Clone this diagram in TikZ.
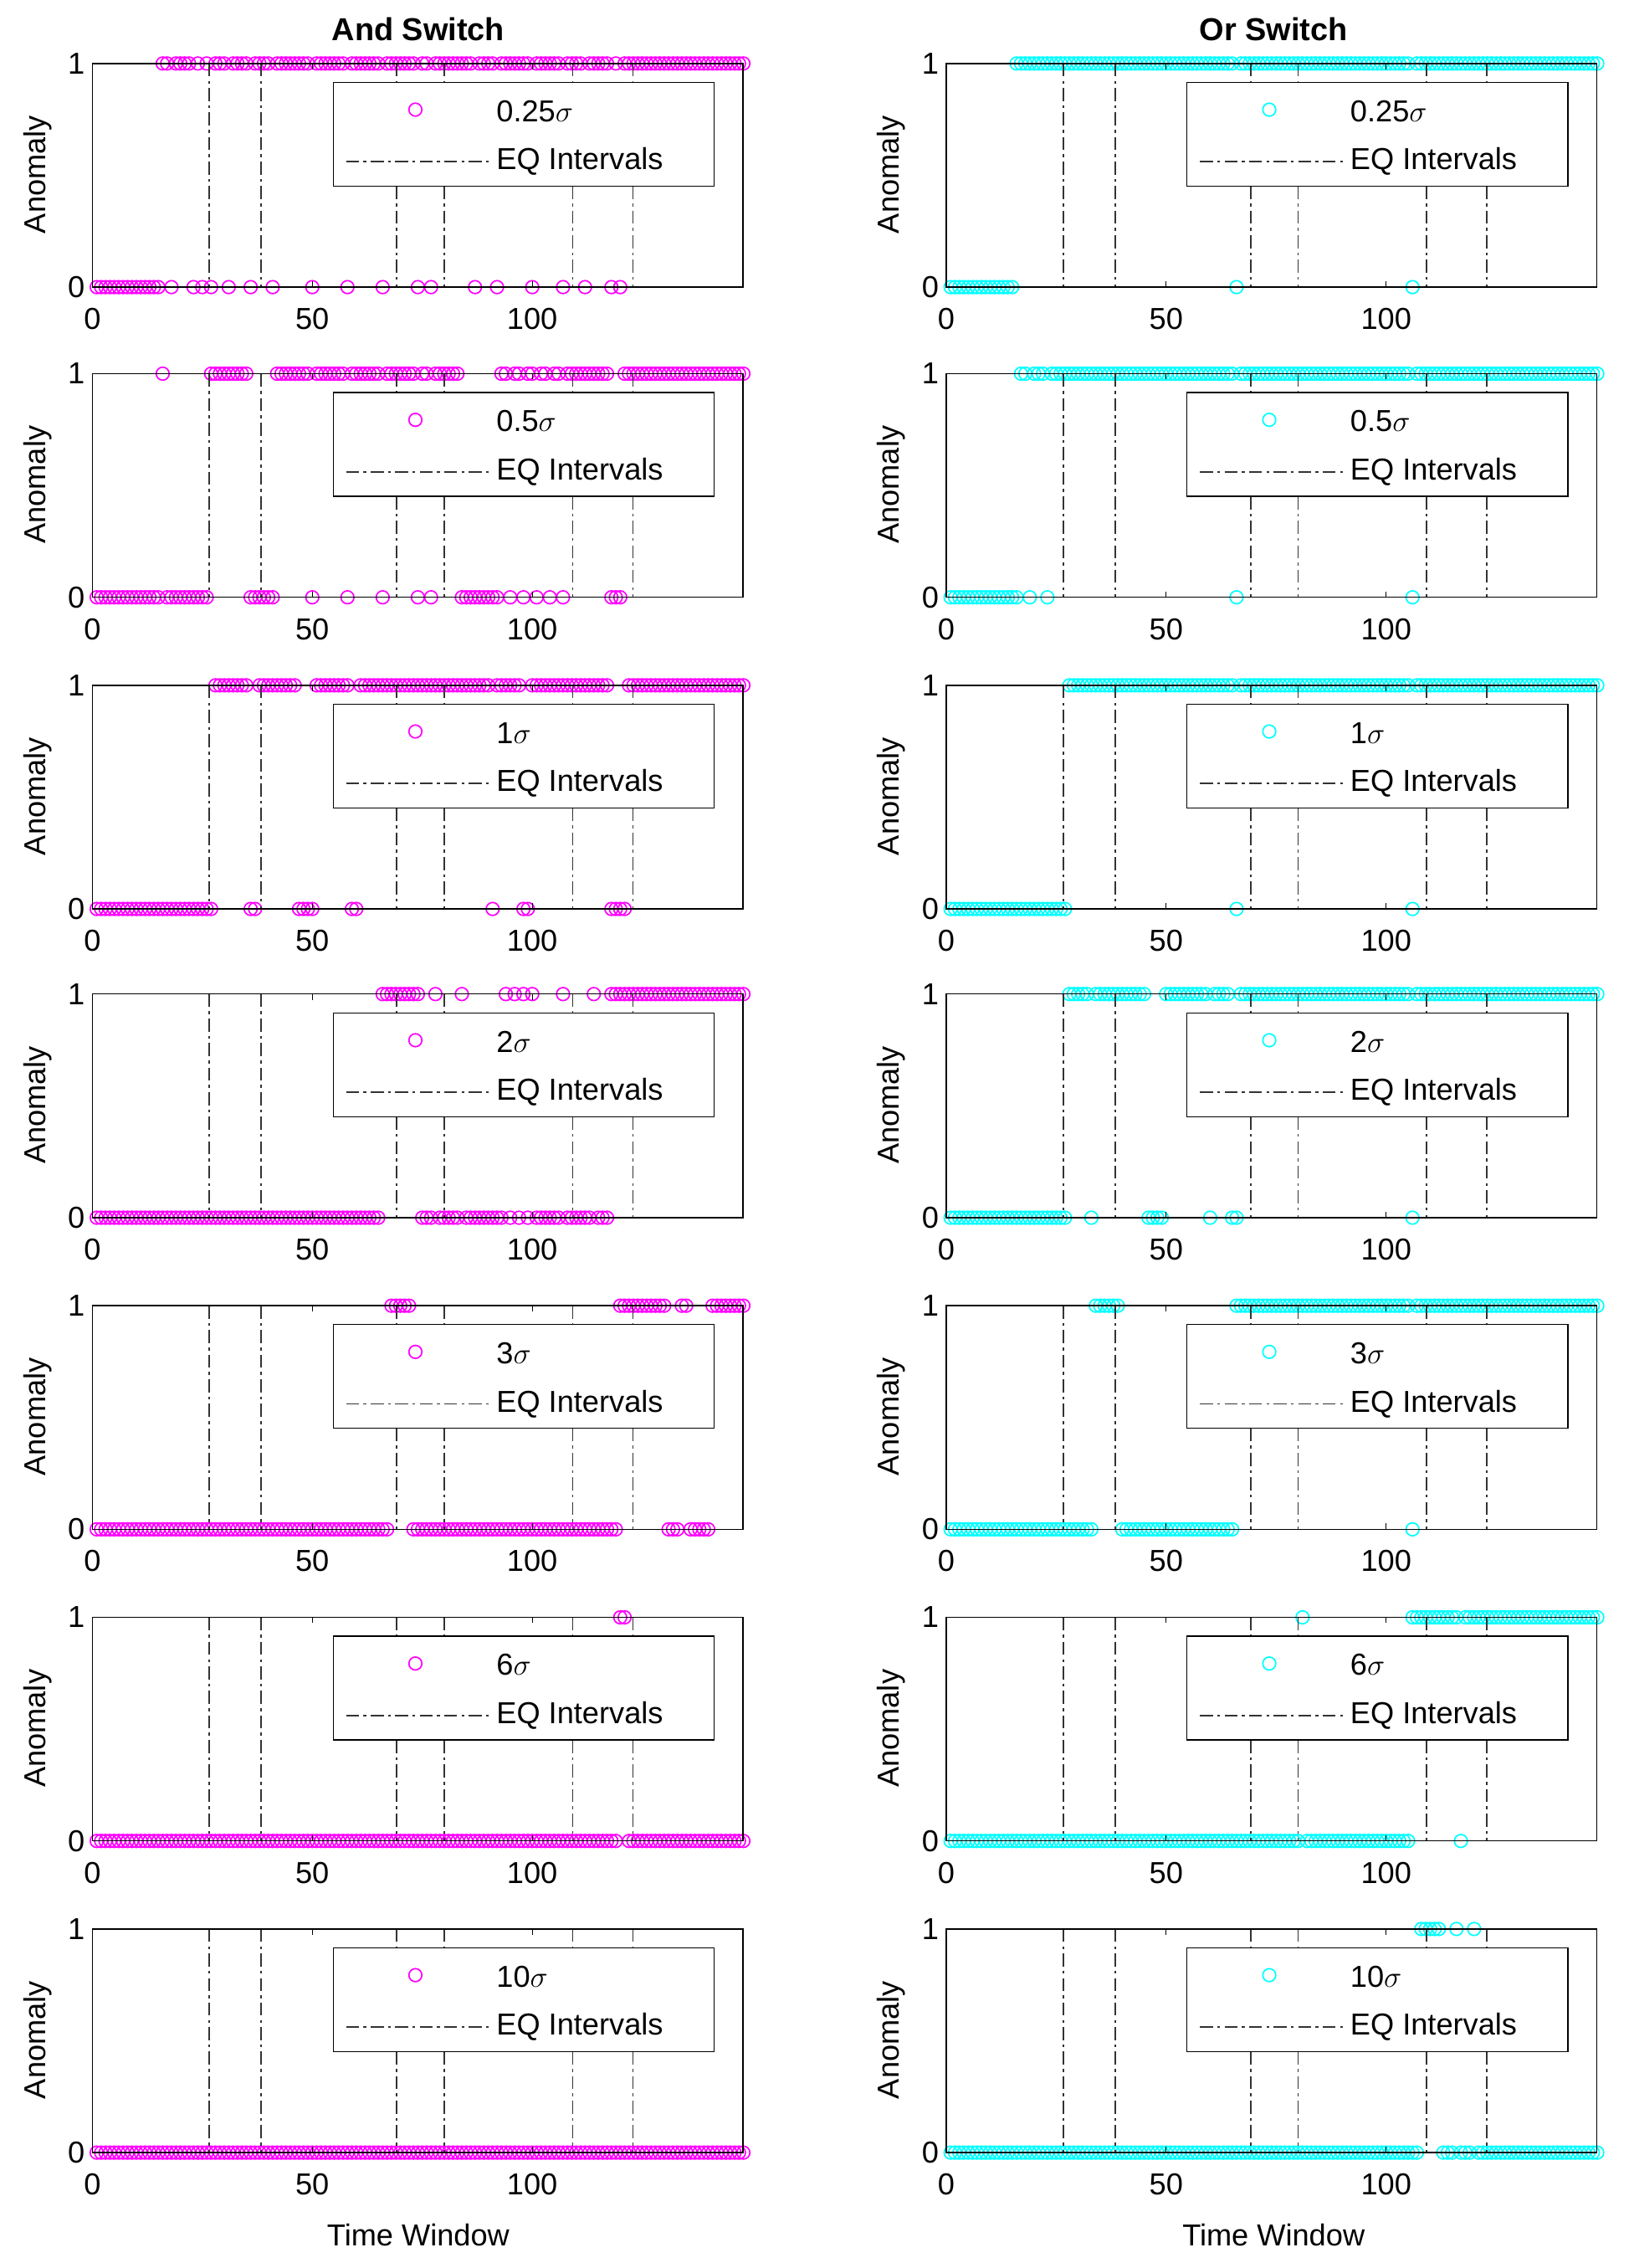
\documentclass[tikz,border=0pt]{standalone}
\usepackage{fontspec}
\setmainfont{Liberation Sans}
\definecolor{mag}{RGB}{255,0,255}
\definecolor{cya}{RGB}{0,255,255}
\tikzset{
 axisbox/.style={draw=black,line width=0.8pt},
 eqline/.style={draw=black!80,line width=1pt,dash pattern=on 9pt off 3pt on 2pt off 3pt},
 lab/.style={font=\fontsize{21}{24}\selectfont,inner sep=1pt},
 ttl/.style={font=\fontsize{22}{26}\selectfont\bfseries}
}
\newcommand\panel[8]{%
 \begin{scope}[shift={(#1,#2)}]
 \foreach \a/\b in {#6}{\foreach \i in {\a,...,\b}{\expandafter\gdef\csname m#7@\i\endcsname{}}}
 \foreach \i in {1,...,148}{%
   \ifcsname m#7@\i\endcsname \def\yy{#4}\else \def\yy{#5}\fi
   \draw[#3,line width=1pt] (\i*3.05,\yy) circle (4.5);}
 \foreach \e in {26.6,38.4,69.2,80,109.2,122.9}{\draw[eqline] (\e*3.05,0)--(\e*3.05,155);}
 \draw[axisbox] (0,0) rectangle (451,155);
 \foreach \t in {0,50,100}{\draw[black] (\t*3.05,155)--(\t*3.05,151) (\t*3.05,0)--(\t*3.05,4);
   \node[lab] at (\t*3.05,177) {\t};}
 \draw (0,0)--(4,0) (451,0)--(447,0) (0,155)--(4,155) (451,155)--(447,155);
 \node[lab,anchor=east] at (-4,0) {1};
 \node[lab,anchor=east] at (-4,155) {0};
 \node[lab,rotate=90] at (-38,77) {Anomaly};
 \draw[fill=white,line width=0.8pt] (167,13) rectangle (431,85);
 \draw[#3,line width=1pt] (224,32) circle (4.5);
 \node[lab,anchor=west] at (279,33) {#8};
 \draw[eqline] (176,68)--(276,68);
 \node[lab,anchor=west] at (279,68) {EQ Intervals};
 \end{scope}}
\begin{document}
\begin{tikzpicture}[x=1pt,y=-1pt]
\useasboundingbox[fill=white] (0,0) rectangle (1129,1572);
\node[ttl] at (290,20) {And Switch};
\node[ttl] at (883,20) {Or Switch};
\node[lab] at (290,1549) {Time Window};
\node[lab] at (883,1549) {Time Window};
% left column (And)
\panel{64}{44}{mag}{155}{0}{1/15,18/18,23/23,25/25,27/27,31/31,36/36,41/41,50/50,58/58,66/66,74/74,77/77,87/87,92/92,100/100,107/107,112/112,118/118,120/120}{La}{0.25$\sigma$}
\panel{64}{259}{mag}{155}{0}{1/15,17/26,36/41,50/50,58/58,66/66,74/74,77/77,84/92,95/95,98/98,101/101,104/104,107/107,118/120}{Lb}{0.5$\sigma$}
\panel{64}{475}{mag}{0}{155}{28/35,38/46,51/58,61/90,92/97,100/117,122/148}{Lc}{1$\sigma$}
\panel{64}{689}{mag}{0}{155}{66/74,78/78,84/84,94/94,96/96,98/98,100/100,107/107,114/114,118/148}{Ld}{2$\sigma$}
\panel{64}{905}{mag}{0}{155}{68/72,120/130,134/135,141/148}{Le}{3$\sigma$}
\panel{64}{1121}{mag}{0}{155}{120/121}{Lf}{6$\sigma$}
\panel{64}{1337}{mag}{0}{155}{200/200}{Lg}{10$\sigma$}
% right column (Or)
\panel{656}{44}{cya}{155}{0}{1/15,66/66,106/106}{Ra}{0.25$\sigma$}
\panel{656}{259}{cya}{155}{0}{1/16,19/19,23/23,66/66,106/106}{Rb}{0.5$\sigma$}
\panel{656}{475}{cya}{155}{0}{1/27,66/66,106/106}{Rc}{1$\sigma$}
\panel{656}{689}{cya}{155}{0}{1/27,33/33,46/49,60/60,65/66,106/106}{Rd}{2$\sigma$}
\panel{656}{905}{cya}{155}{0}{1/33,40/65,106/106}{Re}{3$\sigma$}
\panel{656}{1121}{cya}{155}{0}{1/80,82/105,117/117}{Rf}{6$\sigma$}
\panel{656}{1337}{cya}{0}{155}{108/112,116/116,120/120}{Rg}{10$\sigma$}
\end{tikzpicture}
\end{document}
